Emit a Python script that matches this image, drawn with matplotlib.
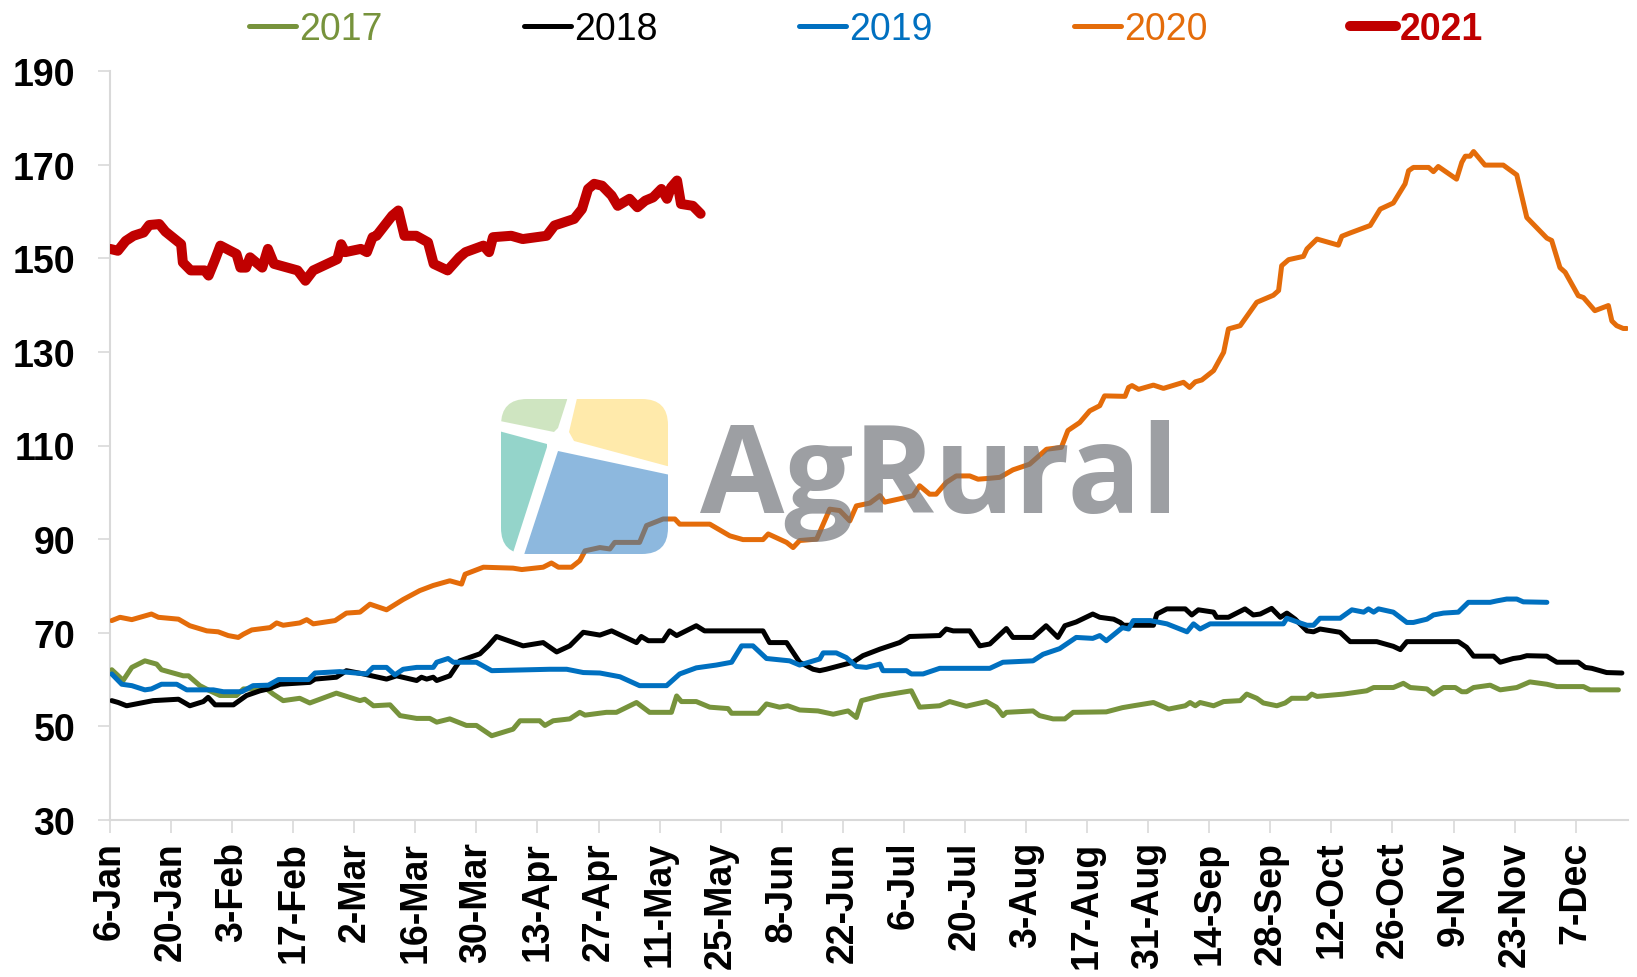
import matplotlib
matplotlib.use('Agg')
import matplotlib.pyplot as plt
from matplotlib.patches import Polygon, FancyBboxPatch
from matplotlib.transforms import IdentityTransform

W, H, DPI = 1637, 978, 100

# ---------------- data ----------------
tick_days = list(range(6, 343, 14))
tick_labels = ['6-Jan', '20-Jan', '3-Feb', '17-Feb', '2-Mar', '16-Mar', '30-Mar',
               '13-Apr', '27-Apr', '11-May', '25-May', '8-Jun', '22-Jun', '6-Jul',
               '20-Jul', '3-Aug', '17-Aug', '31-Aug', '14-Sep', '28-Sep', '12-Oct',
               '26-Oct', '9-Nov', '23-Nov', '7-Dec']

days_2017 = [6.4, 7.9, 9.0, 11.0, 14.0, 16.7, 17.8, 22.8, 24.0, 26.6, 28.9, 31.2, 35.0, 36.6,
             41.9, 43.4, 45.7, 49.5, 51.8, 57.9, 63.3, 64.4, 66.4, 70.2, 72.5, 76.3, 79.3,
             80.9, 83.9, 87.7, 90.0, 93.5, 98.4, 100.0, 104.5, 105.7, 107.6, 111.4, 113.7,
             114.9, 119.8, 122.1, 126.7, 129.7, 134.7, 135.9, 137.0, 140.4, 143.5, 147.7,
             148.5, 154.6, 156.5, 159.5, 161.4, 164.1, 168.3, 171.8, 175.2, 177.1, 178.3,
             182.5, 189.7, 191.6, 196.2, 198.5, 202.3, 206.9, 209.2, 210.7, 211.5, 217.6,
             219.1, 222.2, 224.9, 226.8, 234.4, 238.1, 240.6, 245.2, 248.7, 252.5, 253.6,
             254.8, 255.9, 259.0, 261.3, 265.1, 266.6, 268.9, 270.4, 273.5, 275.4, 276.9,
             280.4, 281.5, 282.7, 288.8, 294.1, 295.7, 300.2, 302.5, 304.1, 307.9, 309.4,
             311.7, 314.4, 315.9, 317.0, 318.6, 322.4, 324.7, 328.5, 331.5, 335.4, 337.7,
             343.8, 345.3, 351.8]
vals_2017 = [62.1, 60.8, 59.8, 62.6, 64.0, 63.3, 62.1, 60.8, 60.8, 58.7, 57.6, 56.6, 56.6, 58.0,
             58.0, 56.9, 55.5, 56.0, 55.0, 57.1, 55.5, 55.8, 54.4, 54.6, 52.3, 51.7, 51.7,
             50.9, 51.6, 50.2, 50.2, 48.0, 49.4, 51.2, 51.2, 50.2, 51.2, 51.6, 53.0,
             52.4, 53.0, 53.0, 55.1, 53.0, 53.0, 56.5, 55.3, 55.3, 54.1, 53.8,
             52.8, 52.8, 54.8, 54.1, 54.4, 53.5, 53.3, 52.6, 53.3, 51.9, 55.5,
             56.5, 57.6, 54.1, 54.4, 55.3, 54.3, 55.3, 54.1, 52.3, 53.0, 53.3,
             52.3, 51.6, 51.6, 53.0, 53.1, 54.0, 54.4, 55.1, 53.7, 54.4, 55.1,
             54.4, 55.1, 54.4, 55.3, 55.5, 56.9, 56.0, 55.0, 54.4, 55.0, 56.0,
             56.0, 56.9, 56.4, 56.9, 57.6, 58.3, 58.3, 59.2, 58.3, 58.0, 56.9,
             58.3, 58.3, 57.4, 57.4, 58.3, 58.8, 57.8, 58.3, 59.5, 59.0, 58.5,
             58.5, 57.8, 57.8]

days_2018 = [6.4, 7.9, 9.8, 15.9, 21.7, 24.3, 27.4, 28.5, 30.1, 34.3, 37.3, 40.4, 42.3, 45.0,
             51.8, 53.0, 57.9, 60.2, 64.1, 69.4, 71.7, 76.3, 77.4, 78.6, 80.1, 80.9, 83.9,
             86.2, 90.8, 92.7, 94.6, 100.7, 105.3, 108.4, 111.4, 114.5, 118.3, 121.0, 126.7,
             127.8, 129.4, 132.8, 134.3, 135.9, 140.4, 142.3, 155.7, 157.2, 161.1, 164.1,
             167.2, 168.7, 170.2, 176.3, 178.6, 182.5, 187.0, 189.3, 196.2, 197.7, 199.3,
             203.1, 205.4, 207.7, 211.5, 213.0, 217.6, 220.6, 223.3, 224.9, 227.5, 231.3,
             232.9, 236.1, 237.6, 238.4, 245.2, 246.0, 248.3, 252.5, 254.0, 255.5, 259.0,
             259.7, 262.4, 266.2, 268.1, 269.7, 272.3, 274.3, 275.8, 277.7, 280.4, 281.9,
             283.4, 288.0, 290.3, 296.4, 300.2, 301.8, 303.3, 315.1, 317.0, 318.6, 323.2,
             324.7, 327.7, 329.3, 330.8, 335.4, 337.7, 342.6, 344.2, 345.7, 349.1, 352.6]
vals_2018 = [55.5, 55.1, 54.4, 55.5, 55.8, 54.4, 55.3, 56.2, 54.6, 54.6, 56.6, 57.6, 58.0, 59.0,
             59.4, 60.1, 60.5, 61.9, 61.2, 60.1, 60.8, 59.8, 60.5, 60.1, 60.5, 59.8, 60.8,
             64.0, 65.5, 67.2, 69.2, 67.2, 67.9, 65.9, 67.2, 70.1, 69.5, 70.4, 67.9,
             69.2, 68.3, 68.3, 70.4, 69.4, 71.5, 70.4, 70.4, 67.9, 67.9, 63.7,
             62.2, 61.9, 62.2, 63.7, 65.1, 66.5, 67.9, 69.2, 69.4, 70.8, 70.4,
             70.4, 67.2, 67.6, 70.9, 69.0, 69.0, 71.5, 69.0, 71.5, 72.3, 74.0,
             73.3, 72.9, 72.2, 71.6, 71.6, 74.0, 75.1, 75.1, 73.8, 74.9, 74.4,
             73.3, 73.3, 75.1, 73.8, 74.0, 75.2, 73.3, 74.2, 72.9, 70.4, 70.2,
             70.8, 70.1, 68.1, 68.1, 67.1, 66.4, 68.1, 68.1, 66.9, 65.0, 65.0,
             63.7, 64.5, 64.7, 65.1, 65.0, 63.7, 63.7, 62.6, 62.4, 61.5, 61.4]

days_2019 = [6.4, 8.7, 11.0, 14.0, 15.5, 17.8, 21.3, 23.6, 29.7, 32.0, 36.2, 38.8, 42.3, 44.6,
             51.5, 53.0, 58.7, 64.8, 66.3, 69.4, 71.3, 73.2, 76.3, 80.1, 80.9, 83.5, 84.7,
             90.0, 93.5, 106.8, 110.7, 114.5, 118.3, 122.9, 127.4, 133.6, 136.6, 140.4,
             145.0, 148.5, 150.8, 153.4, 156.5, 161.8, 164.1, 168.7, 169.5, 172.5, 174.8,
             177.1, 179.4, 182.5, 183.2, 188.6, 189.7, 192.4, 196.2, 207.7, 210.7, 217.6,
             219.9, 223.7, 227.5, 231.3, 232.9, 234.4, 238.1, 239.5, 240.6, 244.5, 248.3,
             252.9, 254.4, 255.9, 258.2, 268.1, 275.0, 275.8, 278.8, 280.4, 281.9, 283.4,
             288.0, 290.7, 293.4, 294.5, 295.7, 296.8, 300.2, 303.3, 304.8, 307.9, 309.4,
             311.7, 315.1, 317.4, 322.4, 323.9, 326.2, 328.5, 330.0, 335.4]
vals_2019 = [61.2, 59.0, 58.7, 57.8, 58.0, 59.0, 59.0, 57.8, 57.8, 57.4, 57.4, 58.7, 58.8, 60.0,
             60.0, 61.4, 61.7, 61.2, 62.6, 62.6, 61.0, 62.2, 62.6, 62.6, 63.7, 64.5, 63.7,
             63.7, 61.9, 62.2, 62.2, 61.5, 61.4, 60.6, 58.7, 58.7, 61.2, 62.5,
             63.1, 63.7, 67.2, 67.2, 64.5, 64.0, 63.1, 64.4, 65.7, 65.7, 64.7,
             62.8, 62.6, 63.3, 61.9, 61.9, 61.2, 61.2, 62.4, 62.4, 63.7, 64.0,
             65.4, 66.6, 69.0, 68.8, 69.4, 68.3, 71.1, 70.8, 72.6, 72.6, 71.9,
             70.2, 71.9, 70.8, 71.9, 71.9, 71.9, 73.1, 72.1, 71.6, 71.6, 73.1,
             73.1, 74.9, 74.4, 75.1, 74.4, 75.1, 74.4, 72.2, 72.2, 72.9, 73.8,
             74.2, 74.4, 76.5, 76.5, 76.8, 77.2, 77.2, 76.6, 76.5]

days_2020 = [6.4, 8.3, 11.0, 15.5, 17.1, 21.7, 24.3, 28.2, 30.8, 33.1, 35.4, 36.6, 38.5, 42.7,
             44.2, 45.7, 49.5, 51.1, 52.6, 57.6, 60.2, 63.3, 65.6, 69.4, 73.2, 77.0, 80.1,
             83.9, 86.6, 87.4, 91.6, 98.4, 100.4, 105.3, 107.2, 108.8, 111.8, 113.7, 114.9,
             118.3, 120.6, 121.7, 127.4, 129.0, 132.8, 135.5, 136.6, 143.5, 148.1, 151.1,
             155.7, 156.9, 161.1, 162.6, 164.1, 168.0, 171.0, 173.3, 175.6, 177.1, 180.2,
             182.5, 183.6, 187.0, 190.1, 191.6, 193.9, 195.4, 197.7, 200.0, 203.1, 205.0,
             207.7, 210.0, 213.0, 216.8, 220.7, 224.1, 225.6, 228.3, 230.6, 232.9, 234.0,
             238.7, 239.5, 240.3, 241.8, 245.2, 247.5, 252.1, 253.5, 254.8, 256.3, 259.0,
             261.3, 262.4, 265.1, 268.9, 272.7, 273.9, 274.6, 276.2, 279.6, 280.4, 282.7,
             287.6, 288.4, 290.3, 294.9, 297.2, 300.2, 302.9, 303.7, 304.8, 308.3, 309.4,
             310.5, 314.7, 315.9, 316.7, 317.8, 318.6, 321.2, 325.4, 328.5, 330.8, 335.4,
             336.5, 338.4, 339.6, 342.6, 343.8, 346.4, 349.5, 350.3, 351.4, 352.9, 353.7]
vals_2020 = [72.6, 73.3, 72.8, 74.0, 73.3, 72.9, 71.5, 70.4, 70.2, 69.4, 69.0, 69.7, 70.6, 71.1,
             72.1, 71.6, 72.1, 72.8, 71.9, 72.6, 74.2, 74.4, 76.1, 74.9, 77.1, 79.0, 80.1,
             81.1, 80.4, 82.5, 84.0, 83.8, 83.5, 84.0, 84.9, 84.0, 84.0, 85.4, 87.5,
             88.2, 87.9, 89.3, 89.3, 92.9, 94.3, 94.3, 93.2, 93.2, 90.7, 89.9,
             89.9, 91.1, 89.3, 88.2, 89.7, 90.0, 96.4, 96.1, 93.9, 97.1, 97.7,
             99.3, 97.9, 98.6, 99.3, 101.4, 99.6, 99.6, 102.1, 103.5, 103.5, 102.8,
             103.0, 103.2, 104.8, 106.0, 109.2, 109.6, 113.2, 114.9, 117.4, 118.5, 120.6,
             120.5, 122.4, 122.8, 122.0, 122.9, 122.2, 123.5, 122.4, 123.6, 124.0, 126.0,
             129.9, 134.9, 135.6, 140.6, 142.1, 143.1, 148.4, 149.7, 150.4, 152.0, 154.1,
             152.8, 154.7, 155.4, 157.0, 160.5, 161.8, 165.9, 168.7, 169.4, 169.4, 168.5,
             169.6, 166.9, 170.5, 171.8, 171.8, 172.8, 169.9, 169.9, 167.8, 158.7, 154.3,
             153.8, 148.0, 147.0, 142.0, 141.6, 138.8, 139.9, 136.6, 135.6, 135.0, 135.0]

days_2021 = [6.0, 7.8, 9.6, 11.4, 13.7, 15.0, 17.3, 18.7, 22.3, 22.7, 24.5, 27.7, 28.6, 30.0,
             31.3, 35.0, 35.9, 37.2, 38.1, 40.9, 42.2, 43.6, 49.0, 50.8, 52.6, 58.1, 59.0,
             59.9, 63.5, 64.9, 66.2, 67.1, 70.7, 72.1, 73.5, 76.2, 78.9, 80.2, 83.4, 86.1,
             87.5, 91.6, 92.9, 93.8, 98.0, 100.6, 106.1, 107.9, 112.4, 114.2, 115.6, 117.0,
             118.8, 121.0, 122.4, 125.1, 126.9, 128.7, 130.5, 132.4, 133.7, 134.6, 136.0,
             136.9, 139.6, 141.4]
vals_2021 = [152.0, 151.6, 153.7, 154.8, 155.5, 157.1, 157.3, 155.7, 153.0, 149.1, 147.4, 147.4,
             146.3, 149.5, 152.7, 150.9, 148.0, 148.0, 150.2, 148.0, 152.0, 148.8, 147.4,
             145.2, 147.4, 149.8, 153.0, 151.3, 152.0, 151.3, 154.5, 154.8, 159.1, 160.2,
             154.8, 154.8, 153.4, 148.8, 147.4, 150.2, 151.3, 152.7, 151.3, 154.5, 154.8,
             154.1, 154.8, 157.0, 158.4, 160.5, 164.8, 165.9, 165.5, 163.4, 161.2, 162.7,
             160.9, 162.3, 163.0, 164.8, 162.7, 165.1, 166.6, 161.6, 161.2, 159.5]

series = [
    ('2017', days_2017, vals_2017, '#77933C', 3.6),
    ('2018', days_2018, vals_2018, '#000000', 3.6),
    ('2019', days_2019, vals_2019, '#0070C0', 3.6),
    ('2020', days_2020, vals_2020, '#E46C0A', 3.6),
    ('2021', days_2021, vals_2021, '#C00000', 7.2),
]

# ---------------- figure ----------------
plt.rcParams['font.family'] = ['Liberation Sans', 'DejaVu Sans']
fig = plt.figure(figsize=(W / DPI, H / DPI), dpi=DPI)
L, R, T, B = 110, 1628, 72, 821
ax = fig.add_axes([L / W, 1 - B / H, (R - L) / W, (B - T) / H])

handles = []
for name, d, v, c, lw in series:
    ln, = ax.plot(d, v, color=c, lw=lw, label=name,
                  solid_joinstyle='round', solid_capstyle='round', zorder=3)
    handles.append(ln)

ax.set_xlim(6, 354)
ax.set_ylim(30, 190)
ax.set_yticks(range(30, 191, 20))
ax.set_xticks(tick_days)
ax.set_xticklabels(tick_labels, rotation=90, fontweight='bold', fontsize=27)
for t in ax.get_yticklabels():
    t.set_fontweight('bold')
    t.set_fontsize(27)
for s in ['top', 'right']:
    ax.spines[s].set_visible(False)
for s in ['left', 'bottom']:
    ax.spines[s].set_color('#D9D9D9')
    ax.spines[s].set_linewidth(1.5)
ax.tick_params(axis='both', direction='out', length=9, width=1.2, color='#D9D9D9')
ax.tick_params(axis='x', pad=6)
ax.tick_params(axis='y', pad=16)

leg = fig.legend(handles=handles, loc='center', bbox_to_anchor=(866 / W, 1 - 30 / H),
                 ncol=5, frameon=False, fontsize=27, handlelength=1.25,
                 handletextpad=0.08, columnspacing=3.78, borderpad=0, borderaxespad=0)
for txt, (name, d, v, c, lw) in zip(leg.get_texts(), series):
    txt.set_color(c)
    if name == '2021':
        txt.set_fontweight('bold')

# ---------------- watermark (AgRural logo) ----------------
def P(pts):
    return [(x, H - y) for x, y in pts]

idt = IdentityTransform()
clip = FancyBboxPatch((501, H - 555), 167, 155, boxstyle='round,pad=0,rounding_size=26',
                      transform=idt, facecolor='none', edgecolor='none')
fig.add_artist(clip)
logo_parts = [
    ([(495, 395), (568, 395), (567, 401), (558, 429), (554, 433), (495, 421)], '#A9D18E'),
    ([(578, 395), (675, 395), (675, 468), (667, 467), (574, 442), (569, 433)], '#FFD966'),
    ([(495, 431), (547, 445), (547, 448), (511, 560), (495, 560)], '#3DB2A0'),
    ([(558, 452), (675, 477), (675, 565), (521, 565)], '#2F7FC4'),
]
for pts, col in logo_parts:
    pg = Polygon(P(pts), closed=True, transform=idt, facecolor=col, edgecolor='none',
                 alpha=0.55, zorder=10)
    pg.set_clip_path(clip)
    fig.add_artist(pg)

fig.text(700 / W, 1 - 513 / H, 'AgRural', fontsize=88, fontweight='bold',
         family=['Open Sans', 'DejaVu Sans'], color='#6F7278', alpha=0.68,
         ha='left', va='baseline', zorder=10)

fig.savefig('out.png', dpi=DPI)
